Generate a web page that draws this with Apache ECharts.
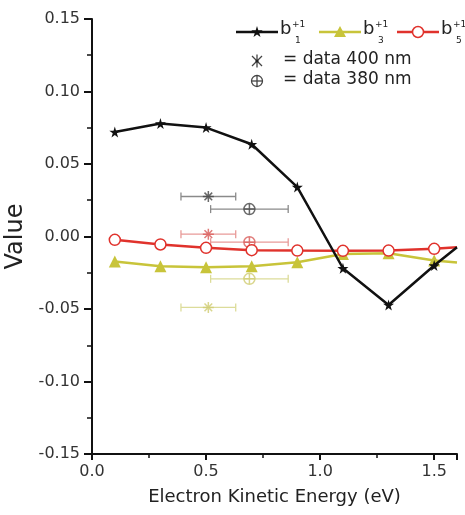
<!DOCTYPE html>
<html><head><meta charset="utf-8">
<script src="https://cdn.jsdelivr.net/npm/echarts@6/dist/echarts.min.js"></script>
<style>html,body{margin:0;padding:0;background:#fff}#c{width:465px;height:515px}</style>
</head><body><div id="c"></div>
<script>
// ---- data ----
const energy = [0.1, 0.3, 0.5, 0.7, 0.9, 1.1, 1.3, 1.5, 1.6];
const b1 = [0.0721, 0.0779, 0.0751, 0.0636, 0.0341, -0.0219, -0.0472, -0.0200, -0.0074];
const b3 = [-0.0173, -0.0205, -0.0212, -0.0205, -0.0177, -0.0120, -0.0115, -0.0166, -0.0180];
const b5 = [-0.0023, -0.0055, -0.0078, -0.0094, -0.0097, -0.0099, -0.0097, -0.0085, -0.0074];
// experimental points: [x low, x centre, x high], values ordered b1, b3, b5
const data400X = [0.39, 0.51, 0.63];
const data400Y = [0.0276, -0.0489, 0.0016];
const data380X = [0.52, 0.69, 0.86];
const data380Y = [0.0189, -0.0292, -0.0039];
const yTicks = { min: -0.15, max: 0.15, step: 0.05 };
const xTicks = { min: 0, max: 1.6, step: 0.5 };

// ---- styles ----
const FONT = '"DejaVu Sans", "Noto Sans", sans-serif';
const C1 = '#111111', C3 = '#c8c43a', C5 = '#e0322c';
const E1 = '#8a8a8a', E3 = '#dcdc9a', E5 = '#e89a98';
const M1 = '#444444', M3 = '#d0cc70', M5 = '#d85a58';
const STAR = 'path://M50,0 L61,35 L98,35 L68,57 L79,91 L50,70 L21,91 L32,57 L2,35 L39,35 Z';
const ASTER = 'path://M15,15 L85,85 M85,15 L15,85 M50,0 L50,100 M0,50 L100,50';
const OPLUS = 'path://M0,50 A50,50 0 1,1 100,50 A50,50 0 1,1 0,50 Z M0,50 L100,50 M50,0 L50,100';
const STAR_PTS = [[50,0],[61,35],[98,35],[68,57],[79,91],[50,70],[21,91],[32,57],[2,35],[39,35]];

function lineData(ys) {
  const last = energy.length - 1;
  return energy.map((x, i) => i === last ? { value: [x, ys[i]], symbol: 'none' } : [x, ys[i]]);
}
function errSeries(xs, y, color) {
  return {
    type: 'custom', silent: true, z: 2,
    data: [[xs[0], xs[2], y]],
    renderItem: function (params, api) {
      const p0 = api.coord([api.value(0), api.value(2)]);
      const p1 = api.coord([api.value(1), api.value(2)]);
      const st = { stroke: color, lineWidth: 1.3 };
      return { type: 'group', children: [
        { type: 'line', shape: { x1: p0[0], y1: p0[1], x2: p1[0], y2: p1[1] }, style: st },
        { type: 'line', shape: { x1: p0[0], y1: p0[1] - 4, x2: p0[0], y2: p0[1] + 4 }, style: st },
        { type: 'line', shape: { x1: p1[0], y1: p1[1] - 4, x2: p1[0], y2: p1[1] + 4 }, style: st }
      ]};
    }
  };
}
function ptSeries(x, y, sym, color) {
  return {
    type: 'scatter', z: 3, symbol: sym, symbolSize: 11,
    data: [[x, y]],
    itemStyle: { color: 'rgba(0,0,0,0)', borderColor: color, borderWidth: 1.5 }
  };
}

// ---- legend (graphic) ----
function legItem(x0, y, color, symEl, sub) {
  return [
    { type: 'line', shape: { x1: x0, y1: y, x2: x0 + 42, y2: y }, style: { stroke: color, lineWidth: 2.5 } },
    symEl(x0 + 21, y),
    { type: 'text', x: x0 + 44, y: y - 12, style: { text: 'b', font: '18px ' + FONT, fill: '#222' } },
    { type: 'text', x: x0 + 56, y: y - 12, style: { text: '+1', font: '9px ' + FONT, fill: '#222' } },
    { type: 'text', x: x0 + 59, y: y + 4, style: { text: sub, font: '9px ' + FONT, fill: '#222' } }
  ];
}
const starEl = (cx, cy) => ({ type: 'polygon', shape: { points: STAR_PTS.map(p => [cx - 6 + p[0] * 0.12, cy - 6 + p[1] * 0.12]) }, style: { fill: C1 } });
const triEl = (cx, cy) => ({ type: 'polygon', shape: { points: [[cx, cy - 6], [cx + 6, cy + 5], [cx - 6, cy + 5]] }, style: { fill: C3 } });
const circEl = (cx, cy) => ({ type: 'circle', shape: { cx: cx, cy: cy, r: 5.5 }, style: { fill: '#fff', stroke: C5, lineWidth: 1.5 } });
const lst = { stroke: '#444', lineWidth: 1.3 };
const asterEl = (cx, cy) => ({ type: 'group', children: [
  { type: 'line', shape: { x1: cx, y1: cy - 6.5, x2: cx, y2: cy + 6.5 }, style: lst },
  { type: 'line', shape: { x1: cx - 5, y1: cy - 5, x2: cx + 5, y2: cy + 5 }, style: lst },
  { type: 'line', shape: { x1: cx + 5, y1: cy - 5, x2: cx - 5, y2: cy + 5 }, style: lst },
  { type: 'circle', shape: { cx: cx, cy: cy, r: 1.6 }, style: { fill: '#222' } }
]});
const oplusEl = (cx, cy) => ({ type: 'group', children: [
  { type: 'circle', shape: { cx: cx, cy: cy, r: 5.5 }, style: { fill: 'none', stroke: '#444', lineWidth: 1.3 } },
  { type: 'line', shape: { x1: cx - 5.5, y1: cy, x2: cx + 5.5, y2: cy }, style: lst },
  { type: 'line', shape: { x1: cx, y1: cy - 5.5, x2: cx, y2: cy + 5.5 }, style: lst }
]});

const graphics = [].concat(
  legItem(236, 32, C1, starEl, '1'),
  legItem(319, 32, C3, triEl, '3'),
  legItem(397, 32, C5, circEl, '5'),
  [asterEl(257, 61),
   { type: 'text', x: 283, y: 51, style: { text: '= data 400 nm', font: '17px ' + FONT, fill: '#222' } },
   oplusEl(257, 81),
   { type: 'text', x: 283, y: 71, style: { text: '= data 380 nm', font: '17px ' + FONT, fill: '#222' } }]
);

const chart = echarts.init(document.getElementById('c'), null, { renderer: 'canvas' });
chart.setOption({
  animation: false,
  backgroundColor: '#fff',
  textStyle: { fontFamily: FONT },
  grid: { left: 92, right: 8, top: 19, bottom: 61, containLabel: false, outerBoundsMode: 'none' },
  xAxis: {
    type: 'value', min: xTicks.min, max: xTicks.max, interval: xTicks.step,
    name: 'Electron Kinetic Energy (eV)', nameLocation: 'middle', nameGap: 34,
    nameTextStyle: { fontSize: 18, color: '#222', fontFamily: FONT },
    axisLine: { onZero: false, lineStyle: { color: '#111', width: 2 } },
    axisTick: { show: true, length: 6, inside: false, lineStyle: { color: '#111', width: 2 } },
    minorTick: { show: true, splitNumber: 2, length: 4, lineStyle: { color: '#111', width: 1.5 } },
    axisLabel: { fontSize: 16, color: '#333', margin: 10, showMaxLabel: false, formatter: v => v.toFixed(1) },
    splitLine: { show: false }
  },
  yAxis: {
    type: 'value', min: yTicks.min, max: yTicks.max, interval: yTicks.step,
    name: 'Value', nameLocation: 'middle', nameGap: 58,
    nameTextStyle: { fontSize: 24, color: '#222', fontFamily: FONT },
    axisLine: { show: true, onZero: false, lineStyle: { color: '#111', width: 2 } },
    axisTick: { show: true, length: 8, lineStyle: { color: '#111', width: 2 } },
    minorTick: { show: true, splitNumber: 2, length: 5, lineStyle: { color: '#111', width: 1.5 } },
    axisLabel: { fontSize: 16, color: '#333', margin: 12, formatter: v => v.toFixed(2) },
    splitLine: { show: false }
  },
  graphic: graphics,
  series: [
    errSeries(data400X, data400Y[0], E1), errSeries(data400X, data400Y[1], E3), errSeries(data400X, data400Y[2], E5),
    errSeries(data380X, data380Y[0], E1), errSeries(data380X, data380Y[1], E3), errSeries(data380X, data380Y[2], E5),
    ptSeries(data400X[1], data400Y[0], ASTER, M1), ptSeries(data400X[1], data400Y[1], ASTER, M3), ptSeries(data400X[1], data400Y[2], ASTER, M5),
    ptSeries(data380X[1], data380Y[0], OPLUS, M1), ptSeries(data380X[1], data380Y[1], OPLUS, M3), ptSeries(data380X[1], data380Y[2], OPLUS, M5),
    { name: 'b3', type: 'line', z: 4, data: lineData(b3), symbol: 'triangle', symbolSize: 12,
      lineStyle: { color: C3, width: 2.5 }, itemStyle: { color: C3 } },
    { name: 'b5', type: 'line', z: 5, data: lineData(b5), symbol: 'circle', symbolSize: 11,
      lineStyle: { color: C5, width: 2.5 }, itemStyle: { color: '#fff', borderColor: C5, borderWidth: 1.5 } },
    { name: 'b1', type: 'line', z: 6, data: lineData(b1), symbol: STAR, symbolSize: 11,
      lineStyle: { color: C1, width: 2.5 }, itemStyle: { color: C1 } }
  ]
});
</script></body></html>
